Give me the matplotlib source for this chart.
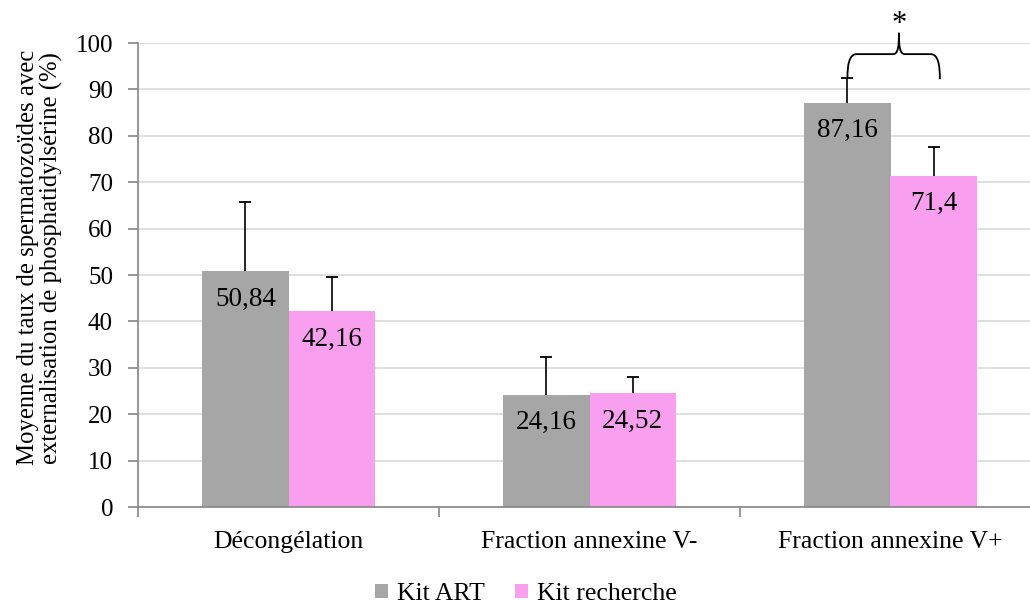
import matplotlib
matplotlib.use("Agg")
import matplotlib.pyplot as plt
import numpy as np
from matplotlib.path import Path
from matplotlib.patches import PathPatch

# data
categories = ["Décongélation", "Fraction annexine V-", "Fraction annexine V+"]
kit_art = [50.84, 24.16, 87.16]
kit_recherche = [42.16, 24.52, 71.4]
err_art = [15.0, 8.2, 5.4]
err_recherche = [7.5, 3.4, 6.2]
labels_art = ["50,84", "24,16", "87,16"]
labels_recherche = ["42,16", "24,52", "71,4"]
series_names = ["Kit ART", "Kit recherche"]

plt.rcParams['font.family'] = ['Liberation Serif', 'DejaVu Serif']

fig = plt.figure(figsize=(10.3, 6.06), dpi=100)
W, H = 1030, 606
ax = fig.add_axes([138 / W, (H - 507) / H, 903 / W, 464 / H])

x = np.arange(len(categories))
w = 0.286
gray = '#a6a6a6'
pink = '#f99ff0'

b1 = ax.bar(x - w / 2, kit_art, w, color=gray, label=series_names[0], zorder=2)
b2 = ax.bar(x + w / 2, kit_recherche, w, color=pink, label=series_names[1], zorder=2)

# one-sided (upper) error bars, cap only at the top
for xs, vals, errs in [(x - w / 2, kit_art, err_art), (x + w / 2, kit_recherche, err_recherche)]:
    tops = np.array(vals) + np.array(errs)
    ax.vlines(xs, vals, tops, color='black', lw=1.2, zorder=3)
    ax.plot(xs, tops, linestyle='none', marker='_', markersize=9,
            markeredgewidth=1.3, color='black', zorder=3)

for xi, v, t in zip(x - w / 2, kit_art, labels_art):
    ax.text(xi, v - 6.0, t, ha='center', va='center', fontsize=19.5, zorder=4)
for xi, v, t in zip(x + w / 2, kit_recherche, labels_recherche):
    ax.text(xi, v - 6.0, t, ha='center', va='center', fontsize=19.5, zorder=4)

ax.set_xlim(-0.5, 2.5)
ax.set_ylim(0, 100)
ax.set_yticks(np.arange(0, 101, 10))
ax.yaxis.grid(True, color='#d9d9d9', linewidth=1.2, zorder=0)
ax.set_axisbelow(True)

ax.set_xticks(x)
ax.set_xticklabels(categories, fontsize=18.5)
ax.set_xticks([-0.5, 0.5, 1.5], minor=True)
ax.tick_params(axis='x', which='major', length=0, pad=17)
ax.tick_params(axis='x', which='minor', length=7, color='#868686', width=1.2)
ax.tick_params(axis='y', labelsize=18, length=7, color='#868686', width=1.2, pad=11)

for s in ['top', 'right']:
    ax.spines[s].set_visible(False)
for s in ['left', 'bottom']:
    ax.spines[s].set_color('#868686')
    ax.spines[s].set_linewidth(1.2)

ax.set_ylabel("Moyenne du taux de spermatozoïdes avec\nexternalisation de phosphatidylsérine (%)",
              fontsize=17.8, linespacing=1.05, labelpad=9)
ax.yaxis.label.set_y(0.537)

# brace with significance star over the third group
xl = x[2] - w / 2
xr = 2.164
yb_l = kit_art[2] + err_art[2]
yb_r = 92.2
yh = 97.6
xm = 2.028
yp = 102.2
verts = [
    (xl, yb_l), (xl, yh - 2.5), (xl + 0.005, yh), (xl + 0.03, yh),
    (xm - 0.02, yh), (xm - 0.003, yh), (xm, yh + 1.5), (xm, yp),
    (xm, yh + 1.5), (xm + 0.003, yh), (xm + 0.02, yh),
    (xr - 0.03, yh), (xr - 0.005, yh), (xr, yh - 2.5), (xr, yb_r),
]
codes = [Path.MOVETO, Path.CURVE4, Path.CURVE4, Path.CURVE4,
         Path.LINETO, Path.CURVE4, Path.CURVE4, Path.CURVE4,
         Path.CURVE4, Path.CURVE4, Path.CURVE4,
         Path.LINETO, Path.CURVE4, Path.CURVE4, Path.CURVE4]
ax.add_patch(PathPatch(Path(verts, codes), fill=False, lw=1.3, color='black',
                       clip_on=False, zorder=5))
ax.text(xm, 104.0, "*", ha='center', va='center', fontsize=22, clip_on=False)

fig.legend(handles=[b1, b2], labels=series_names, loc='center',
           bbox_to_anchor=(526 / W, 1 - 594 / H), ncol=2, frameon=False,
           fontsize=18.5, handlelength=0.5, handleheight=0.5, handletextpad=0.35,
           columnspacing=1.2)

fig.savefig("out.png", dpi=100)
